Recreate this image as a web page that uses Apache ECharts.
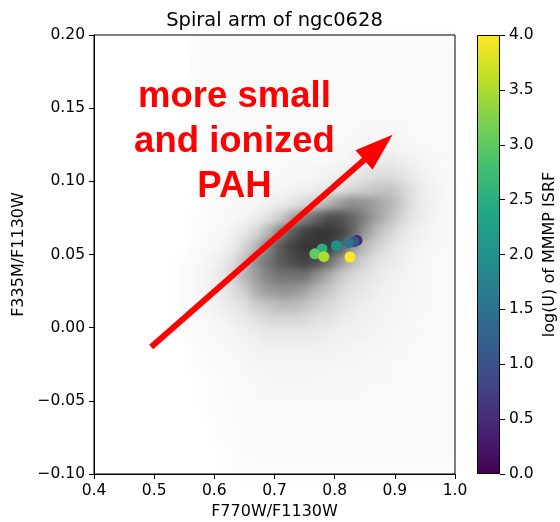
<!DOCTYPE html>
<html>
<head>
<meta charset="utf-8">
<script src="https://cdn.jsdelivr.net/npm/echarts/dist/echarts.min.js"></script>
<style>
  html, body { margin: 0; padding: 0; background: #ffffff; }
  #wrap { position: relative; width: 560px; height: 522px; }
  #density, #chart { position: absolute; left: 0; top: 0; width: 560px; height: 522px; }
  #density { filter: blur(4px); }
</style>
</head>
<body>
<div id="wrap">
  <div id="density"></div>
  <div id="chart"></div>
</div>
<script>
// ---- data ----------------------------------------------------------------
// pixel density of the spiral arm, binned 0.02 in x (0.40 .. 1.00)
// and 0.01 in y, rows listed from y = 0.20 (top) down to y = -0.10
const densityRows = [
  [0,0,0,0,0,0,0,0,.3,.4,.4,.4,.4,.4,.4,.4,.4,.4,.4,.4,.4,.4,.4,.4,.4,.4,.4,.4,.4,.4],
  [0,0,0,0,0,0,0,0,.3,.4,.4,.4,.4,.4,.4,.4,.4,.4,.4,.4,.4,.4,.4,.4,.4,.4,.4,.4,.4,.4],
  [0,0,0,0,0,0,0,0,.3,.4,.4,.4,.4,.4,.4,.4,.4,.4,.4,.4,.4,.4,.4,.4,.4,.4,.4,.4,.4,.4],
  [0,0,0,0,0,0,0,0,.2,.4,.4,.4,.4,.4,.4,.4,.4,.4,.4,.4,.4,.4,.4,.4,.4,.4,.4,.4,.4,.4],
  [0,0,0,0,0,0,0,0,.2,.4,.4,.4,.4,.4,.4,.4,.4,.4,.4,.4,.4,.4,.4,.4,.4,.4,.4,.4,.4,.4],
  [0,0,0,0,0,0,0,0,.2,.4,.4,.4,.4,.4,.4,.4,.4,.4,.4,.4,.4,.4,.4,.4,.4,.4,.4,.4,.4,.4],
  [0,0,0,0,0,0,0,0,.2,.3,.4,.4,.4,.4,.4,.4,.4,.4,.4,.4,.4,.4,.5,.5,.5,.5,.4,.4,.4,.4],
  [0,0,0,0,0,0,0,0,0,.3,.4,.4,.4,.4,.4,.4,.4,.4,.4,.4,.4,.5,.6,.6,.7,.6,.5,.4,.4,.4],
  [0,0,0,0,0,0,0,0,0,.3,.4,.4,.4,.4,.4,.4,.4,.4,.4,.5,.6,.8,1,1.1,1.2,1,.8,.6,.5,.4],
  [0,0,0,0,0,0,0,0,0,.3,.4,.4,.4,.4,.4,.4,.5,.5,.6,.8,1,1.3,1.7,2,2.1,1.8,1.2,.8,.5,.4],
  [0,0,0,0,0,0,0,0,0,.3,.4,.4,.4,.5,.5,.6,.7,.9,1.1,1.4,1.8,2.3,2.8,3.2,3.4,2.8,1.8,1.1,.7,.5],
  [0,0,0,0,0,0,0,0,0,.3,.4,.4,.5,.6,.8,1.2,1.6,2.2,3,4,5,5.5,5.3,4.8,4.2,3.2,2,1.1,.7,.5],
  [0,0,0,0,0,0,0,0,.2,.3,.4,.5,.7,1.1,2,3,4.5,6,7,8,7.8,7,6,4.8,3.8,2.7,1.6,1,.6,.5],
  [0,0,0,0,0,0,0,0,.2,.4,.5,.8,1.5,2.5,4,6,7.5,8.5,9,9,8.5,7.2,5.2,3.8,2.8,1.8,1.1,.8,.5,.4],
  [0,0,0,0,0,0,0,0,.3,.5,.7,1.2,2.5,4,6,7.5,8.5,9,9,8.8,7.5,5.3,3.8,2.8,1.9,1.2,.9,.6,.5,.4],
  [0,0,0,0,0,0,0,.2,.4,.6,1,2,3.5,5.5,6.5,7.5,8,8.5,8,6.8,5.2,3.8,2.8,1.9,1.4,1,.7,.5,.4,.4],
  [0,0,0,0,0,0,0,.3,.5,.8,1.5,2.5,4,5,6,6.5,6.5,6.5,5.5,4.4,3.3,2.4,1.9,1.4,1,.8,.6,.5,.4,.4],
  [0,0,0,0,0,0,0,.3,.5,.8,1.2,2,3,4.3,5,5.3,5.3,4.8,3.9,3.3,2.4,1.9,1.4,1.1,.9,.7,.6,.5,.4,.4],
  [0,0,0,0,0,0,0,.3,.4,.6,1,1.5,2,2.9,3.4,3.8,3.8,3.4,2.9,2.4,1.9,1.4,1.1,.9,.7,.6,.5,.5,.4,.4],
  [0,0,0,0,0,0,0,.3,.4,.5,.7,1,1.4,1.9,2.3,2.4,2.4,2.3,1.9,1.8,1.4,1.1,.9,.8,.7,.6,.5,.4,.4,.4],
  [0,0,0,0,0,0,0,.2,.3,.4,.5,.7,.9,1.1,1.4,1.4,1.4,1.4,1.3,1.1,.9,.9,.8,.7,.6,.5,.5,.4,.4,.4],
  [0,0,0,0,0,0,0,0,.3,.3,.4,.5,.6,.8,.9,.9,.9,.9,.9,.8,.7,.7,.6,.6,.5,.5,.4,.4,.4,.4],
  [0,0,0,0,0,0,0,0,.2,.3,.3,.4,.5,.6,.7,.7,.7,.7,.7,.6,.6,.6,.5,.5,.5,.4,.4,.4,.4,.4],
  [0,0,0,0,0,0,0,0,0,.2,.3,.3,.4,.5,.5,.6,.6,.6,.6,.5,.5,.5,.5,.5,.5,.4,.4,.4,.4,.4],
  [0,0,0,0,0,0,0,0,0,.2,.3,.3,.4,.4,.5,.5,.5,.5,.5,.5,.5,.5,.4,.4,.4,.4,.4,.4,.4,.4],
  [0,0,0,0,0,0,0,0,0,.2,.2,.3,.4,.4,.4,.4,.4,.4,.4,.4,.4,.4,.4,.4,.4,.4,.4,.4,.4,.4],
  [0,0,0,0,0,0,0,0,0,0,.2,.3,.3,.4,.4,.4,.4,.4,.4,.4,.4,.4,.4,.4,.4,.4,.4,.4,.4,.4],
  [0,0,0,0,0,0,0,0,0,0,.2,.2,.3,.3,.4,.4,.4,.4,.4,.4,.4,.4,.4,.4,.4,.4,.4,.4,.4,.4],
  [0,0,0,0,0,0,0,0,0,0,0,.2,.3,.3,.3,.4,.4,.4,.4,.4,.4,.4,.4,.4,.4,.4,.4,.4,.4,.4],
  [0,0,0,0,0,0,0,0,0,0,0,.2,.2,.3,.3,.3,.3,.3,.3,.3,.3,.3,.3,.3,.3,.3,.3,.3,.3,.3]
];

// MMMP model grid: band ratios and log(U) of each model
const modelX    = [0.837, 0.832, 0.823, 0.803, 0.779, 0.767, 0.782, 0.8255];
const modelY    = [0.0596, 0.0587, 0.0579, 0.0560, 0.0538, 0.0505, 0.0485, 0.0483];
const modelLogU = [0.5, 1.0, 1.5, 2.0, 2.5, 3.0, 3.5, 4.0];

// annotation: arrow (tail, head centre) and its caption
const arrowTail = [0.495, -0.0132];
const arrowHead = [0.8725, 0.1232];
const captionAt = [0.6335, 0.127];
const captionText = 'more small\nand ionized\nPAH';

// axis tick settings
const xTicks = { min: 0.4, max: 1.0, step: 0.1 };
const yTicks = { min: -0.1, max: 0.2, step: 0.05 };
const cbTicks = { min: 0, max: 4, step: 0.5 };

// ---- styles --------------------------------------------------------------
const viridis = ['#440154', '#482475', '#414487', '#355f8d', '#2a788e', '#21918c',
                 '#22a884', '#44bf70', '#7ad151', '#bddf26', '#fde725'];
const greys = ['#ffffff', '#efefef', '#e0e0e0', '#cdcdcd', '#b6b6b6', '#9c9c9c',
               '#818181', '#666666', '#4c4c4c', '#353535'];
const axisFont = 'DejaVu Sans';
const plot = { left: 94, top: 35, width: 361, height: 439 };
const cbar = { left: 477, top: 35, width: 23, height: 439 };

// ---- density layer -------------------------------------------------------
const nRows = densityRows.length;
const colCats = densityRows[0].map((_, i) => String(i));
const rowCats = densityRows.map((_, j) => String(j));
const cells = [];
densityRows.forEach((row, j) => {
  row.forEach((v, i) => {
    if (v > 0) cells.push([i, nRows - 1 - j, v]);
  });
});

const density = echarts.init(document.getElementById('density'), null, { renderer: 'canvas' });
density.setOption({
  animation: false,
  backgroundColor: 'transparent',
  grid: Object.assign({ outerBoundsMode: 'none' }, plot),
  xAxis: { type: 'category', data: colCats, show: false },
  yAxis: { type: 'category', data: rowCats, show: false },
  visualMap: { type: 'continuous', show: false, min: 0, max: 9, inRange: { color: greys } },
  series: [{ type: 'heatmap', data: cells, itemStyle: { borderWidth: 0 } }]
});

// ---- main chart ----------------------------------------------------------
const fmt = d => v => {
  if (Math.abs(v) < 1e-9) return (0).toFixed(d);
  return v < 0 ? '\u2212' + (-v).toFixed(d) : v.toFixed(d);
};
const tickStyle = { show: true, length: 5, lineStyle: { color: '#000', width: 1 } };
const labelStyle = d => ({ show: true, color: '#000', fontSize: 15.5, fontFamily: axisFont,
                           formatter: fmt(d), showMinLabel: true, showMaxLabel: true, margin: 9 });
const nameStyle = { color: '#000', fontSize: 16, fontFamily: axisFont };

const chart = echarts.init(document.getElementById('chart'), null, { renderer: 'canvas' });
chart.setOption({
  animation: false,
  backgroundColor: 'transparent',
  graphic: [{
    type: 'text', x: plot.left + plot.width / 2, y: 21,
    style: { text: 'Spiral arm of ngc0628', fill: '#000', fontSize: 19.5, fontFamily: axisFont,
             align: 'center', verticalAlign: 'middle', textAlign: 'center', textVerticalAlign: 'middle' }
  }],
  grid: [
    Object.assign({ show: true, borderColor: '#000', borderWidth: 1, backgroundColor: 'transparent',
                    outerBoundsMode: 'none' }, plot),
    Object.assign({ show: false, outerBoundsMode: 'none' }, cbar)
  ],
  xAxis: [
    { gridIndex: 0, type: 'value', min: xTicks.min, max: xTicks.max, interval: xTicks.step,
      name: 'F770W/F1130W', nameLocation: 'middle', nameGap: 27, nameTextStyle: nameStyle,
      axisLine: { show: true, onZero: false, lineStyle: { color: '#000', width: 1 } },
      axisTick: tickStyle, axisLabel: labelStyle(1), splitLine: { show: false } },
    { gridIndex: 1, type: 'category', data: ['logU'], show: false }
  ],
  yAxis: [
    { gridIndex: 0, type: 'value', min: yTicks.min, max: yTicks.max, interval: yTicks.step,
      name: 'F335M/F1130W', nameLocation: 'middle', nameGap: 64, nameTextStyle: nameStyle,
      axisLine: { show: true, onZero: false, lineStyle: { color: '#000', width: 1 } },
      axisTick: tickStyle, axisLabel: labelStyle(2), splitLine: { show: false } },
    { gridIndex: 1, type: 'value', position: 'right', min: cbTicks.min, max: cbTicks.max,
      interval: cbTicks.step,
      name: 'log(U) of MMMP ISRF', nameLocation: 'middle', nameGap: 42, nameTextStyle: nameStyle,
      axisLine: { show: false }, axisTick: tickStyle, axisLabel: labelStyle(1),
      splitLine: { show: false } }
  ],
  visualMap: [{
    type: 'continuous', show: false, min: cbTicks.min, max: cbTicks.max, dimension: 2,
    seriesIndex: 0, inRange: { color: viridis }
  }],
  series: [
    {
      name: 'MMMP models', type: 'scatter', xAxisIndex: 0, yAxisIndex: 0,
      symbolSize: 11, z: 3, itemStyle: { opacity: 1 },
      data: modelX.map((x, k) => [x, modelY[k], modelLogU[k]])
    },
    {
      name: 'caption', type: 'scatter', xAxisIndex: 0, yAxisIndex: 0, z: 4,
      symbolSize: 0, silent: true, itemStyle: { opacity: 1 },
      data: [captionAt],
      label: {
        show: true, position: 'inside', formatter: captionText, opacity: 1,
        color: '#ff0000', fontSize: 36.5, fontWeight: 'bold', fontFamily: 'Liberation Sans',
        lineHeight: 45, align: 'center', verticalAlign: 'middle'
      },
      markLine: {
        silent: true, animation: false,
        symbol: ['none', 'triangle'],
        lineStyle: { color: '#ff0000', width: 6, type: 'solid', opacity: 1 },
        label: { show: false },
        data: [[
          { coord: arrowTail, symbol: 'none' },
          { coord: arrowHead, symbol: 'triangle', symbolSize: [26, 38] }
        ]]
      }
    },
    {
      name: 'colorbar', type: 'bar', xAxisIndex: 1, yAxisIndex: 1,
      barWidth: '100%', data: [cbTicks.max], silent: true,
      itemStyle: {
        borderColor: '#000', borderWidth: 1,
        color: {
          type: 'linear', x: 0, y: 1, x2: 0, y2: 0,
          colorStops: viridis.map((c, k) => ({ offset: k / (viridis.length - 1), color: c }))
        }
      }
    }
  ]
});
</script>
</body>
</html>
